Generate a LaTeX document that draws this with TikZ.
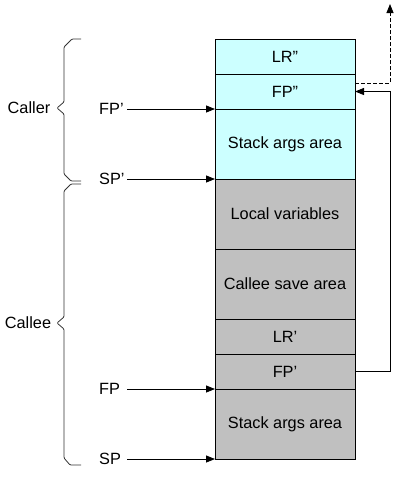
\documentclass[tikz,border=0pt]{standalone}
\usepackage{fontspec}
\setmainfont{Liberation Sans}
\usepackage{tikz}
\usetikzlibrary{positioning}
\usetikzlibrary{arrows.meta}
\definecolor{callerfill}{HTML}{CCFFFF}
\definecolor{calleefill}{HTML}{C0C0C0}

\begin{document}
\begin{tikzpicture}[x=1pt,y=-1pt,>={Triangle[length=9pt,width=7pt]},
    font=\fontsize{16.3}{19}\selectfont,
    cell/.style={draw,line width=0.8pt,minimum width=140pt,minimum height=35pt,inner sep=0pt,outer sep=0pt},
    tall/.style={cell,minimum height=70pt},
    caller/.style={fill=callerfill},
    callee/.style={fill=calleefill},
    ptrname/.style={anchor=west,text width=25pt,align=left,inner sep=3pt},
    ptr/.style={->,line width=0.8pt},
    frame/.style={line width=0.8pt,black!80,rounded corners=1pt}]
    \useasboundingbox (0,0) rectangle (403,479);
    % caller frame
    \node[cell,caller] (lrtop) at (285,56.5) {LR''};
    \node[cell,caller,below=0pt of lrtop] (fptop) {FP''};
    \node[tall,caller,below=0pt of fptop] (argstop) {Stack args area};
    % callee frame
    \node[tall,callee,below=0pt of argstop] (locals) {Local variables};
    \node[tall,callee,below=0pt of locals] (saves) {Callee save area};
    \node[cell,callee,below=0pt of saves] (lr) {LR'};
    \node[cell,callee,below=0pt of lr] (fp) {FP'};
    \node[tall,callee,below=0pt of fp] (args) {Stack args area};
    % pointers
    \node[ptrname] (fpold) at (96,109) {FP'};
    \node[ptrname] (spold) at (96,179) {SP'};
    \node[ptrname] (fpnew) at (96,389) {FP};
    \node[ptrname] (spnew) at (96,459) {SP};
    \draw[ptr] (fpold.east) -- (argstop.north west);
    \draw[ptr] (spold.east) -- (locals.north west);
    \draw[ptr] (fpnew.east) -- (args.north west);
    \draw[ptr] (spnew.east) -- (args.south west);
    % saved frame pointers
    \coordinate (up) at (390,4);
    \draw[ptr] (fp.east) -- ++(35,0) |- (fptop.east);
    \draw[ptr,dash pattern=on 4pt off 2pt] ([yshift=-9pt]fptop.north east) -| (up);
    % groups
    \node (callerlbl) at (29,108) {Caller};
    \node (calleelbl) at (28,323) {Callee};
    \draw[frame] (81,39) -- (72,39) -- (64,47) -- (64,102) -- (57,108)
        -- (64,114) -- (64,174) -- (71,181) -- (81,181);
    \draw[frame] (81,184) -- (71,184) -- (64,191) -- (64,317) -- (57,323)
        -- (64,329) -- (64,458) -- (70,465) -- (81,465);
\end{tikzpicture}
\end{document}
